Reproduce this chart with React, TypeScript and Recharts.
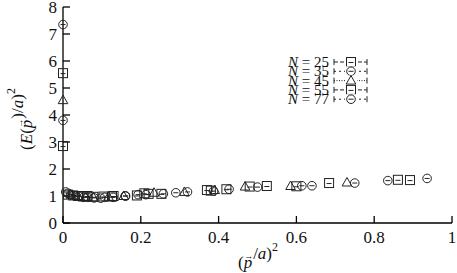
import React from "react";
import { ScatterChart, Scatter, XAxis, YAxis } from "recharts";

/* ── Data ──────────────────────────────────────────────────── */

const X_TICKS = [0, 0.2, 0.4, 0.6, 0.8, 1];
const Y_TICKS = [0, 1, 2, 3, 4, 5, 6, 7, 8];

const N25_X = [0, 0.063, 0.126, 0.19, 0.253, 0.38, 0.524, 0.684, 0.892];
const N25_Y = [5.55, 1.0, 0.98, 1.02, 1.08, 1.2, 1.37, 1.48, 1.59];

const N35_X = [0, 0.032, 0.064, 0.097, 0.129, 0.161, 0.193, 0.258, 0.29, 0.387, 0.614, 0.75, 0.936];
const N35_Y = [3.8, 1.0, 0.95, 0.92, 0.95, 1.0, 1.05, 1.08, 1.12, 1.18, 1.38, 1.48, 1.65];

const N45_X = [0, 0.02, 0.039, 0.058, 0.078, 0.117, 0.156, 0.234, 0.312, 0.39, 0.468, 0.585, 0.73];
const N45_Y = [4.55, 1.05, 1.0, 0.97, 0.95, 0.97, 1.0, 1.12, 1.15, 1.22, 1.35, 1.37, 1.5];

const N55_X = [0, 0.013, 0.026, 0.039, 0.052, 0.078, 0.104, 0.13, 0.209, 0.22, 0.37, 0.42, 0.48, 0.6, 0.861];
const N55_Y = [2.85, 1.05, 1.02, 1.0, 0.98, 0.97, 0.98, 1.0, 1.1, 1.08, 1.22, 1.25, 1.35, 1.36, 1.6];

const N77_X = [0, 0.007, 0.013, 0.02, 0.027, 0.04, 0.053, 0.08, 0.107, 0.16, 0.213, 0.32, 0.427, 0.5, 0.64, 0.835];
const N77_Y = [7.35, 1.15, 1.1, 1.05, 1.02, 1.0, 0.95, 0.93, 0.95, 1.0, 1.05, 1.15, 1.25, 1.33, 1.38, 1.57];

type Marker = "square" | "circle" | "triangle";

const SERIES: { n: string; xs: number[]; ys: number[]; marker: Marker; dash: string }[] = [
  { n: "25", xs: N25_X, ys: N25_Y, marker: "square", dash: "4,2" },
  { n: "35", xs: N35_X, ys: N35_Y, marker: "circle", dash: "2,3" },
  { n: "45", xs: N45_X, ys: N45_Y, marker: "triangle", dash: "1,1.5" },
  { n: "55", xs: N55_X, ys: N55_Y, marker: "square", dash: "4,2" },
  { n: "77", xs: N77_X, ys: N77_Y, marker: "circle", dash: "2,3" },
];

/* ── Styling ───────────────────────────────────────────────── */

const FONT = "Liberation Serif, serif";
const INK = "#222";

function drawMarker(kind: Marker, cx: number, cy: number) {
  if (kind === "square") {
    return (
      <g>
        <rect x={cx - 4.5} y={cy - 4.5} width={9} height={9} fill="none" stroke={INK} strokeWidth={1} />
        <line x1={cx - 2.5} x2={cx + 2.5} y1={cy + 0.5} y2={cy + 0.5} stroke={INK} strokeWidth={1} />
      </g>
    );
  }
  if (kind === "circle") {
    return (
      <g>
        <circle cx={cx} cy={cy} r={4.3} fill="none" stroke={INK} strokeWidth={1} />
        <line x1={cx - 2.5} x2={cx + 2.5} y1={cy} y2={cy} stroke={INK} strokeWidth={1} />
      </g>
    );
  }
  return (
    <polygon
      points={`${cx},${cy - 5} ${cx - 4.8},${cy + 3.5} ${cx + 4.8},${cy + 3.5}`}
      fill="none"
      stroke={INK}
      strokeWidth={1}
    />
  );
}

const fmtTick = (v: number) => (v === 0 || v === 1 ? String(v) : v.toFixed(1));

/* vector p: italic p with a small arrow over it */
const VecP = () => (
  <>
    <tspan fontStyle="italic">p</tspan>
    <tspan fontSize={9} dx={-8} dy={-9}>→</tspan>
    <tspan dx={0} dy={9}></tspan>
  </>
);

/* ── Component ─────────────────────────────────────────────── */

export default function App() {
  const axisLine = { stroke: "#000", strokeWidth: 1.3 };
  const tickLine = { stroke: "#000", strokeWidth: 1.3 };
  const tickText = { fill: "#111", fontSize: 17, fontFamily: FONT };

  return (
    <div
      style={{
        position: "absolute",
        left: 0,
        top: 0,
        width: 457,
        height: 273,
        background: "#fff",
        fontFamily: FONT,
      }}
    >
      <ScatterChart width={457} height={273} margin={{ top: 7, right: 5, bottom: 0, left: 0 }}>
        <XAxis
          xAxisId="b"
          type="number"
          dataKey="x"
          domain={[0, 1]}
          ticks={X_TICKS}
          interval={0}
          tickFormatter={fmtTick}
          height={50}
          axisLine={axisLine}
          tickLine={tickLine}
          tickSize={-7}
          tickMargin={15}
          tick={tickText}
          label={{
            content: () => (
              <text x={258} y={268} textAnchor="middle" fontFamily={FONT} fontSize={17} fill="#111">
                (<VecP />/<tspan fontStyle="italic">a</tspan>)
                <tspan fontSize={12} dy={-8}>2</tspan>
              </text>
            ),
          }}
        />
        <XAxis
          xAxisId="t"
          orientation="top"
          type="number"
          domain={[0, 1]}
          ticks={X_TICKS}
          interval={0}
          height={0}
          axisLine={axisLine}
          tickLine={tickLine}
          tickSize={-7}
          tick={false}
        />
        <YAxis
          yAxisId="l"
          type="number"
          dataKey="y"
          domain={[0, 8]}
          ticks={Y_TICKS}
          interval={0}
          width={63}
          axisLine={axisLine}
          tickLine={tickLine}
          tickSize={-7}
          tickMargin={13}
          tick={tickText}
          label={{
            content: () => (
              <text
                x={0}
                y={0}
                transform="translate(32,119) rotate(-90)"
                textAnchor="middle"
                fontFamily={FONT}
                fontSize={17}
                fill="#111"
              >
                (<tspan fontStyle="italic">E</tspan>(<VecP />)/<tspan fontStyle="italic">a</tspan>)
                <tspan fontSize={12} dy={-8}>2</tspan>
              </text>
            ),
          }}
        />
        <YAxis
          yAxisId="r"
          orientation="right"
          type="number"
          domain={[0, 8]}
          ticks={Y_TICKS}
          interval={0}
          width={0}
          axisLine={axisLine}
          tickLine={tickLine}
          tickSize={-7}
          tick={false}
        />
        {SERIES.map((s) => (
          <Scatter
            key={s.n}
            xAxisId="b"
            yAxisId="l"
            data={s.xs.map((x, i) => ({ x, y: s.ys[i] }))}
            isAnimationActive={false}
            shape={(p: any) => drawMarker(s.marker, p.cx, p.cy)}
          />
        ))}
      </ScatterChart>

      {/* gnuplot-style key */}
      <svg
        width={457}
        height={273}
        style={{ position: "absolute", left: 0, top: 0, pointerEvents: "none" }}
      >
        {SERIES.map((s, i) => {
          const cy = 62 + i * 9.3;
          return (
            <g key={s.n}>
              <text
                x={329}
                y={cy + 5}
                textAnchor="end"
                fontFamily={FONT}
                fontSize={15}
                fill="#111"
              >
                <tspan fontStyle="italic">N</tspan> = {s.n}
              </text>
              <line x1={334} x2={334} y1={cy - 3} y2={cy + 3} stroke={INK} strokeWidth={1} />
              <line x1={334} x2={367} y1={cy} y2={cy} stroke={INK} strokeWidth={1} strokeDasharray={s.dash} />
              <line x1={367} x2={367} y1={cy - 3} y2={cy + 3} stroke={INK} strokeWidth={1} />
              <rect x={345} y={cy - 5} width={12} height={10} fill="#fff" />
              {drawMarker(s.marker, 351, cy)}
            </g>
          );
        })}
      </svg>
    </div>
  );
}
